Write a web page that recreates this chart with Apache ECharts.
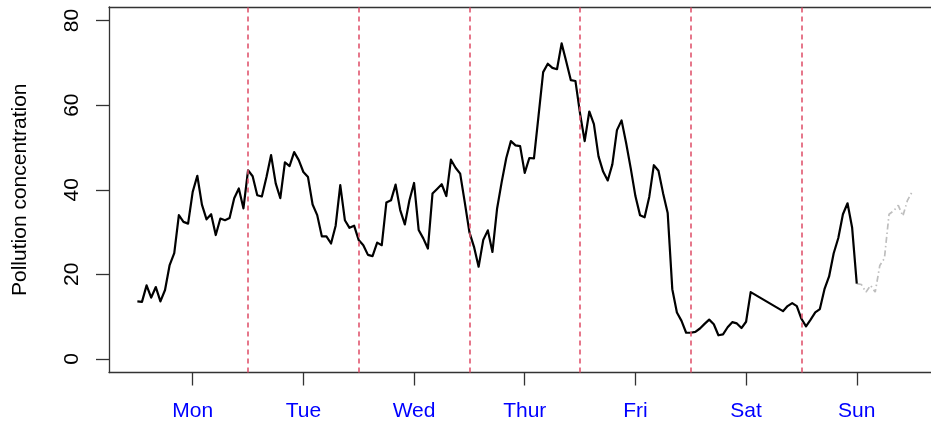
<!DOCTYPE html>
<html>
<head>
<meta charset="utf-8">
<script src="https://cdn.jsdelivr.net/npm/echarts@6/dist/echarts.min.js"></script>
<style>
html,body{margin:0;padding:0;background:#fff;}
#chart{width:931px;height:423px;}
</style>
</head>
<body>
<div id="chart"></div>
<script>
// Day labels (placed at noon of each day, hours from start)
var dayNames = ['Mon', 'Tue', 'Wed', 'Thur', 'Fri', 'Sat', 'Sun'];
var dayTickHours = [12, 36, 60, 84, 108, 132, 156];
// Midnight boundaries (red dashed lines)
var boundaryHours = [24, 48, 72, 96, 120, 144];
// Y tick values
var yTicks = [0, 20, 40, 60, 80];

// Observed series (hours, values)
var obsHours = [
  0,1,2,3,4,5,6,7,8,9,10,11,12,13,14,15,16,17,18,19,20,21,22,23,
  24,25,26,27,28,29,30,31,32,33,34,35,36,37,38,39,40,41,42,43,44,45,46,47,
  48,49,50,51,52,53,54,55,56,57,58,59,60,61,62,63,64,65,66,67,68,69,70,71,
  72,73,74,75,76,77,78,79,80,81,82,83,84,85,86,87,88,89,90,91,92,93,94,95,
  96,97,98,99,100,101,102,103,104,105,106,107,108,109,110,111,112,113,114,115,116,117,118,119,
  120,121,122,123,124,125,126,127,128,129,130,131,132,133,140,141,142,143,
  144,145,146,147,148,149,150,151,152,153,154,155,156
];
var obsValues = [
  13.6,13.5,17.4,14.5,17.0,13.6,16.3,22.2,25.0,34.0,32.4,32.0,39.5,43.3,36.5,33.0,34.2,29.3,33.2,32.8,33.3,38.0,40.3,35.6,
  44.6,43.2,38.7,38.4,43.0,48.2,41.5,38.0,46.5,45.6,48.9,47.0,44.2,43.0,36.5,34.0,29.0,29.0,27.3,31.5,41.1,32.8,31.0,31.5,
  28.1,26.9,24.6,24.3,27.5,26.9,37.0,37.5,41.2,35.2,31.8,37.5,41.6,30.5,28.5,26.1,39.1,40.2,41.3,38.5,47.1,45.2,43.8,37.0,
  30.0,26.5,21.8,28.1,30.4,25.3,35.5,41.8,47.5,51.5,50.5,50.3,44.0,47.5,47.4,57.5,67.8,69.8,68.8,68.5,74.6,70.3,65.9,65.7,
  58.0,51.5,58.5,55.5,47.9,44.3,42.2,46.0,54.1,56.4,51.0,45.0,38.5,34.0,33.5,38.3,45.8,44.5,39.2,34.5,16.5,11.0,9.0,6.2,
  6.2,6.4,7.2,8.3,9.3,8.2,5.6,5.8,7.5,8.7,8.4,7.3,8.8,15.8,11.3,12.5,13.2,12.5,
  9.5,7.7,9.3,11.0,11.8,16.5,19.5,25.0,28.6,34.2,36.8,31.0,17.8
];

// Forecast series (grey dash-dot)
var fcHours = [156,157,158,159,160,161,162,163,164,165,166,167,168];
var fcValues = [17.8,17.6,15.8,17.4,15.8,22.1,23.8,34.2,35.0,36.3,33.8,37.5,39.5];

function pairs(xs, ys) { return xs.map(function (x, i) { return [x, ys[i]]; }); }

var FONT = '"Liberation Sans", Arial, Helvetica, sans-serif';
var AX = {color: '#333', width: 1.3};
var chart = echarts.init(document.getElementById('chart'), null, {renderer: 'canvas'});
chart.setOption({
  animation: false,
  backgroundColor: '#ffffff',
  grid: {left: 109, right: 0, top: 7, bottom: 50.5, show: false},
  xAxis: [{
    type: 'value',
    min: -6.15, max: 172.1,
    splitLine: {show: false},
    axisLine: {show: true, onZero: false, lineStyle: AX},
    axisTick: {show: true, length: 13, customValues: dayTickHours, lineStyle: AX},
    axisLabel: {
      customValues: dayTickHours, margin: 28,
      color: '#0000FF', fontSize: 21, fontFamily: FONT,
      formatter: function (v) { return dayNames[dayTickHours.indexOf(v)] || ''; }
    }
  }, {
    type: 'value', position: 'top',
    min: -6.15, max: 172.1,
    splitLine: {show: false},
    axisLine: {show: true, onZero: false, lineStyle: AX},
    axisTick: {show: false},
    axisLabel: {show: false}
  }],
  yAxis: {
    type: 'value',
    min: -3.2, max: 83.2,
    name: 'Pollution concentration',
    nameLocation: 'middle', nameGap: 78,
    nameTextStyle: {color: '#000', fontSize: 21, fontFamily: FONT},
    splitLine: {show: false},
    axisLine: {show: true, onZero: false, lineStyle: AX},
    axisTick: {show: true, length: 13, customValues: yTicks, lineStyle: AX},
    axisLabel: {
      customValues: yTicks, rotate: 90, margin: 26,
      color: '#000', fontSize: 21, fontFamily: FONT
    }
  },
  series: [
    {
      type: 'line', data: [], z: 1, silent: true,
      markLine: {
        silent: true, symbol: ['none', 'none'], label: {show: false},
        lineStyle: {color: '#E0566F', type: [5, 4], width: 1.6, opacity: 1},
        data: boundaryHours.map(function (h) { return {xAxis: h}; })
      }
    },
    {
      type: 'line', data: pairs(fcHours, fcValues), z: 2,
      showSymbol: false, symbol: 'none',
      lineStyle: {color: '#BEBEBE', width: 1.7, type: [6, 3, 1.5, 3]}
    },
    {
      type: 'line', data: pairs(obsHours, obsValues), z: 3,
      showSymbol: false, symbol: 'none',
      lineStyle: {color: '#000000', width: 2.2, join: 'round'}
    }
  ]
});
</script>
</body>
</html>
